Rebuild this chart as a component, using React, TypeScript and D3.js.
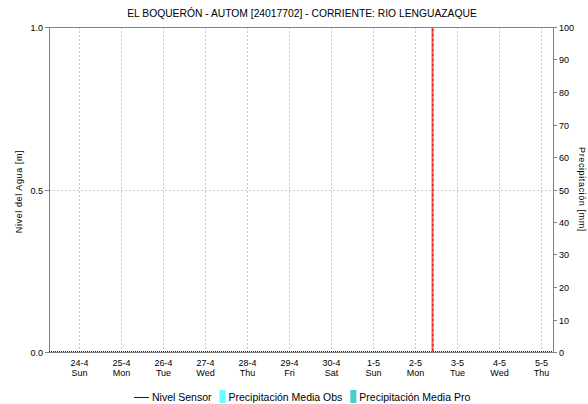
import React, { useEffect, useRef } from 'react';
import * as d3 from 'd3';

const title = 'EL BOQUERÓN - AUTOM [24017702] - CORRIENTE: RIO LENGUAZAQUE';
const leftTicks = [0, 0.5, 1.0];
const rightTicks = [0, 10, 20, 30, 40, 50, 60, 70, 80, 90, 100];
const xStart = new Date(2022, 3, 23, 6, 51);
const xEnd = new Date(2022, 4, 5, 6, 51);
const nowMark = new Date(2022, 4, 2, 9, 43);
const legendItems = [
    { label: 'Nivel Sensor', kind: 'line', color: '#0000ff' },
    { label: 'Precipitación Media Obs', kind: 'rect', color: '#66ffff' },
    { label: 'Precipitación Media Pro', kind: 'rect', color: '#48cfc8' },
];

const W = 588;
const H = 404;
const FONT = '"Liberation Sans", Arial, sans-serif';

const App: React.FC = () => {
    const svgRef = useRef<SVGSVGElement>(null);

    useEffect(() => {
        if (!svgRef.current) return;
        const svg = d3.select(svgRef.current);
        svg.selectAll('*').remove();

        const margin = { top: 27, right: 35, bottom: 52, left: 49 };
        const width = W - margin.left - margin.right;
        const height = H - margin.top - margin.bottom;

        const x = d3.scaleTime().domain([xStart, xEnd]).range([0, width]);
        const yL = d3.scaleLinear().domain([0, 1]).range([height, 0]);
        const yR = d3.scaleLinear().domain([0, 100]).range([height, 0]);

        svg.append('rect').attr('width', W).attr('height', H).attr('fill', '#fff');

        // Title
        svg.append('text')
            .attr('x', 302)
            .attr('y', 17)
            .attr('text-anchor', 'middle')
            .attr('font-family', FONT)
            .attr('font-size', '10.3px')
            .attr('fill', '#000')
            .text(title);

        const g = svg.append('g')
            .attr('transform', `translate(${margin.left},${margin.top})`);

        const days = d3.timeDay.range(d3.timeDay.ceil(xStart), xEnd);

        // Vertical grid
        g.selectAll('.vgrid')
            .data(days)
            .enter()
            .append('line')
            .attr('x1', d => Math.round(x(d)) + 0.5)
            .attr('x2', d => Math.round(x(d)) + 0.5)
            .attr('y1', 0)
            .attr('y2', height)
            .attr('stroke', '#c8c8c8')
            .attr('stroke-width', 1)
            .attr('stroke-dasharray', '2,2');

        // Horizontal grid at 0.5
        g.append('line')
            .attr('x1', 0)
            .attr('x2', width)
            .attr('y1', Math.round(yL(0.5)) + 0.5)
            .attr('y2', Math.round(yL(0.5)) + 0.5)
            .attr('stroke', '#c8c8c8')
            .attr('stroke-dasharray', '2,2');

        // Frame
        g.append('line')
            .attr('x1', 0).attr('x2', width)
            .attr('y1', 0.5).attr('y2', 0.5)
            .attr('stroke', '#808080');
        g.append('line')
            .attr('x1', 0.5).attr('x2', 0.5)
            .attr('y1', 0).attr('y2', height)
            .attr('stroke', '#808080');
        g.append('line')
            .attr('x1', width + 0.5).attr('x2', width + 0.5)
            .attr('y1', 0).attr('y2', height)
            .attr('stroke', '#808080');
        g.append('line')
            .attr('x1', 0).attr('x2', width)
            .attr('y1', height + 0.5).attr('y2', height + 0.5)
            .attr('stroke', '#808080');
        g.append('line')
            .attr('x1', 0).attr('x2', width)
            .attr('y1', height - 0.5).attr('y2', height - 0.5)
            .attr('stroke', '#222')
            .attr('stroke-dasharray', '1,1');

        // Left ticks
        leftTicks.forEach(t => {
            const yy = Math.round(yL(t)) + 0.5;
            g.append('line')
                .attr('x1', -4).attr('x2', 0)
                .attr('y1', yy).attr('y2', yy)
                .attr('stroke', '#808080');
            g.append('text')
                .attr('x', -6)
                .attr('y', yy + 3)
                .attr('text-anchor', 'end')
                .attr('font-family', FONT)
                .attr('font-size', '9px')
                .attr('fill', '#000')
                .text(t.toFixed(1));
        });

        // Right ticks
        rightTicks.forEach(t => {
            const yy = Math.round(yR(t)) + 0.5;
            g.append('line')
                .attr('x1', width).attr('x2', width + 4)
                .attr('y1', yy).attr('y2', yy)
                .attr('stroke', '#808080');
            g.append('text')
                .attr('x', width + 6)
                .attr('y', yy + 3)
                .attr('text-anchor', 'start')
                .attr('font-family', FONT)
                .attr('font-size', '9px')
                .attr('fill', '#000')
                .text(String(t));
        });

        // X tick labels
        const fmtDay = d3.timeFormat('%-d-%-m');
        const fmtWd = d3.timeFormat('%a');
        days.forEach(d => {
            const xx = Math.round(x(d)) + 0.5;
            g.append('text')
                .attr('x', xx)
                .attr('y', height + 14)
                .attr('text-anchor', 'middle')
                .attr('font-family', FONT)
                .attr('font-size', '9px')
                .attr('fill', '#000')
                .text(fmtDay(d));
            g.append('text')
                .attr('x', xx)
                .attr('y', height + 24)
                .attr('text-anchor', 'middle')
                .attr('font-family', FONT)
                .attr('font-size', '9px')
                .attr('fill', '#000')
                .text(fmtWd(d));
        });

        // Now marker
        const nx = Math.round(x(nowMark)) + 0.5;
        g.append('line')
            .attr('x1', nx).attr('x2', nx)
            .attr('y1', 0).attr('y2', height)
            .attr('stroke', '#ff5050')
            .attr('stroke-width', 2);
        g.append('line')
            .attr('x1', nx + 0.5).attr('x2', nx + 0.5)
            .attr('y1', 2).attr('y2', height)
            .attr('stroke', '#e00000')
            .attr('stroke-width', 1)
            .attr('stroke-dasharray', '2,3');

        // Axis titles
        svg.append('text')
            .attr('transform', `translate(22,${margin.top + height / 2 + 2}) rotate(-90)`)
            .attr('text-anchor', 'middle')
            .attr('font-family', FONT)
            .attr('font-size', '9px')
            .attr('letter-spacing', '0.6px')
            .attr('fill', '#000')
            .text('Nivel del Agua [m]');
        svg.append('text')
            .attr('transform', `translate(579,${margin.top + height / 2}) rotate(90)`)
            .attr('text-anchor', 'middle')
            .attr('font-family', FONT)
            .attr('font-size', '9px')
            .attr('letter-spacing', '0.6px')
            .attr('fill', '#000')
            .text('Precipitación [mm]');

        // Legend
        const legendY = 397;
        let lx = 134;
        legendItems.forEach(item => {
            if (item.kind === 'line') {
                svg.append('line')
                    .attr('x1', lx).attr('x2', lx + 15)
                    .attr('y1', legendY + 0.5).attr('y2', legendY + 0.5)
                    .attr('stroke', item.color);
                lx += 18;
            } else {
                svg.append('rect')
                    .attr('x', lx).attr('y', legendY - 7)
                    .attr('width', 6).attr('height', 13)
                    .attr('fill', item.color);
                lx += 9;
            }
            const t = svg.append('text')
                .attr('x', lx)
                .attr('y', legendY + 4)
                .attr('font-family', FONT)
                .attr('font-size', '10.5px')
                .attr('fill', '#000')
                .text(item.label);
            const len = (t.node() as SVGTextElement).getComputedTextLength();
            lx += len + 8;
        });
    }, []);

    return (
        <svg
            ref={svgRef}
            width={W}
            height={H}
            style={{ position: 'absolute', left: 0, top: 0, display: 'block' }}
        />
    );
};

export default App;
